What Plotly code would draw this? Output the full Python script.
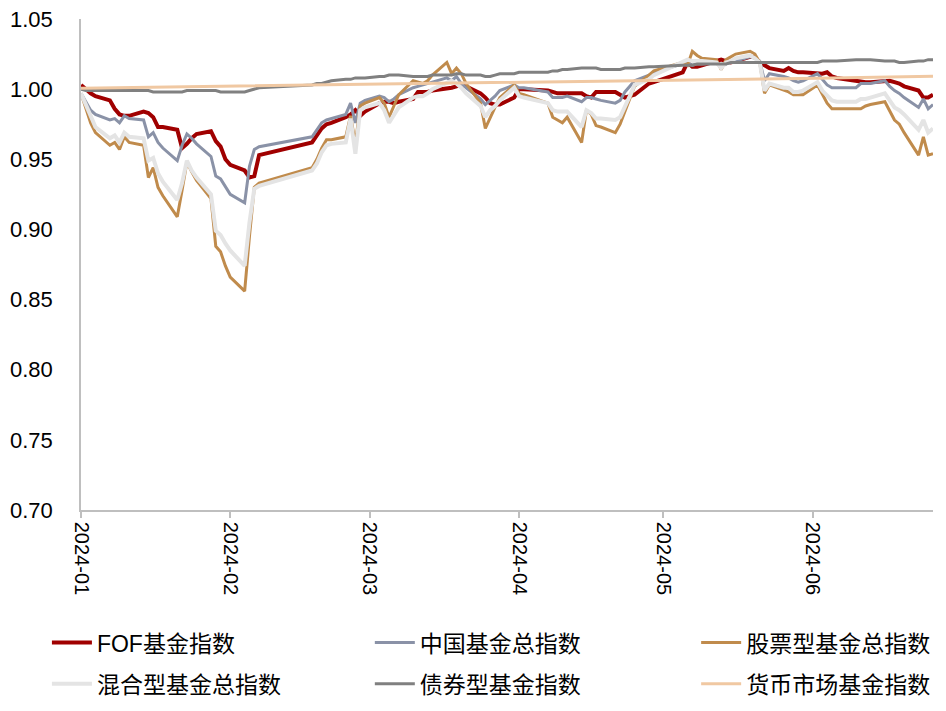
import plotly.graph_objects as go

dates = [
    "2024-01-02", "2024-01-03", "2024-01-04", "2024-01-05", "2024-01-08", "2024-01-09",
    "2024-01-10", "2024-01-11", "2024-01-12", "2024-01-15", "2024-01-16", "2024-01-17",
    "2024-01-18", "2024-01-19", "2024-01-22", "2024-01-23", "2024-01-24", "2024-01-25",
    "2024-01-26", "2024-01-29", "2024-01-30", "2024-01-31", "2024-02-01", "2024-02-02",
    "2024-02-05", "2024-02-06", "2024-02-07", "2024-02-08", "2024-02-19", "2024-02-20",
    "2024-02-21", "2024-02-22", "2024-02-23", "2024-02-26", "2024-02-27", "2024-02-28",
    "2024-02-29", "2024-03-01", "2024-03-04", "2024-03-05", "2024-03-06", "2024-03-07",
    "2024-03-08", "2024-03-11", "2024-03-12", "2024-03-13", "2024-03-14", "2024-03-15",
    "2024-03-18", "2024-03-19", "2024-03-20", "2024-03-21", "2024-03-22", "2024-03-25",
    "2024-03-26", "2024-03-27", "2024-03-28", "2024-03-29", "2024-04-01", "2024-04-02",
    "2024-04-03", "2024-04-08", "2024-04-09", "2024-04-10", "2024-04-11", "2024-04-12",
    "2024-04-15", "2024-04-16", "2024-04-17", "2024-04-18", "2024-04-19", "2024-04-22",
    "2024-04-23", "2024-04-24", "2024-04-25", "2024-04-26", "2024-04-29", "2024-04-30",
    "2024-05-06", "2024-05-07", "2024-05-08", "2024-05-09", "2024-05-10", "2024-05-13",
    "2024-05-14", "2024-05-15", "2024-05-16", "2024-05-17", "2024-05-20", "2024-05-21",
    "2024-05-22", "2024-05-23", "2024-05-24", "2024-05-27", "2024-05-28", "2024-05-29",
    "2024-05-30", "2024-05-31", "2024-06-03", "2024-06-04", "2024-06-05", "2024-06-06",
    "2024-06-07", "2024-06-11", "2024-06-12", "2024-06-13", "2024-06-14", "2024-06-17",
    "2024-06-18", "2024-06-19", "2024-06-20", "2024-06-21", "2024-06-24", "2024-06-25",
    "2024-06-26", "2024-06-27",
]

fof_index = [
    1.003, 1.000, 0.997, 0.995, 0.992, 0.986,
    0.982, 0.981, 0.981, 0.984, 0.983, 0.980,
    0.973, 0.973, 0.971, 0.958, 0.961, 0.965,
    0.968, 0.970, 0.963, 0.959, 0.950, 0.946,
    0.942, 0.937, 0.938, 0.953, 0.962, 0.967,
    0.972, 0.975, 0.976, 0.980, 0.982, 0.985,
    0.981, 0.984, 0.990, 0.991, 0.991, 0.990,
    0.991, 0.993, 0.998, 0.998, 0.998, 0.999,
    1.000, 1.001, 1.002, 1.003, 1.002, 0.997,
    0.994, 0.990, 0.989, 0.989, 0.994, 1.000,
    1.000, 0.999, 0.998, 0.997, 0.997, 0.997,
    0.997, 0.995, 0.994, 0.998, 0.998, 0.998,
    0.996, 0.994, 0.995, 0.996, 1.004, 1.005,
    1.012, 1.019, 1.016, 1.016, 1.017, 1.020,
    1.021, 1.020, 1.019, 1.020, 1.023, 1.023,
    1.019, 1.017, 1.015, 1.013, 1.015, 1.013,
    1.012, 1.012, 1.011, 1.011, 1.012, 1.009,
    1.008, 1.006, 1.005, 1.005, 1.005, 1.006,
    1.006, 1.005, 1.004, 1.002, 0.999, 0.994,
    0.994, 0.996,
]

china_total_index = [
    0.997, 0.991, 0.985, 0.982, 0.978, 0.979,
    0.976, 0.981, 0.979, 0.978, 0.966, 0.969,
    0.962, 0.958, 0.949, 0.960, 0.968, 0.965,
    0.961, 0.952, 0.938, 0.936, 0.930, 0.925,
    0.919, 0.945, 0.957, 0.959, 0.966, 0.971,
    0.976, 0.978, 0.979, 0.982, 0.990, 0.976,
    0.990, 0.992, 0.995, 0.994, 0.991, 0.993,
    0.996, 1.001, 1.002, 1.003, 1.004, 1.005,
    1.008, 1.006, 1.009, 1.004, 1.001, 0.993,
    0.989, 0.992, 0.995, 0.999, 1.003, 1.001,
    1.001, 0.998, 0.994, 0.994, 0.994, 0.995,
    0.991, 0.994, 0.994, 0.993, 0.992, 0.990,
    0.992, 0.998, 1.002, 1.006, 1.010, 1.012,
    1.018, 1.019, 1.017, 1.018, 1.018, 1.019,
    1.016, 1.018, 1.019, 1.020, 1.023, 1.022,
    1.020, 1.006, 1.011, 1.009, 1.008, 1.006,
    1.005, 1.006, 1.011, 1.007, 1.003, 1.001,
    1.001, 1.001, 1.004, 1.004, 1.004, 1.006,
    1.002, 0.999, 0.997, 0.994, 0.987, 0.993,
    0.986, 0.989,
]

stock_fund_index = [
    0.997, 0.987, 0.976, 0.969, 0.960, 0.962,
    0.957, 0.966, 0.962, 0.960, 0.937, 0.944,
    0.930, 0.924, 0.909, 0.928, 0.948, 0.941,
    0.935, 0.922, 0.888, 0.884, 0.874, 0.866,
    0.856, 0.895, 0.930, 0.933, 0.944, 0.950,
    0.958, 0.964, 0.964, 0.966, 0.981, 0.961,
    0.988, 0.990, 0.994, 0.990, 0.980, 0.988,
    0.996, 1.006, 1.005, 1.004, 1.006, 1.010,
    1.019, 1.011, 1.015, 1.011, 1.004, 0.990,
    0.972, 0.980, 0.987, 0.994, 1.003, 0.997,
    0.996, 0.990, 0.980, 0.978, 0.976, 0.980,
    0.962, 0.985, 0.982, 0.974, 0.973, 0.969,
    0.975, 0.984, 0.993, 1.002, 1.010, 1.013,
    1.019, 1.017, 1.027, 1.024, 1.022, 1.021,
    1.014, 1.021, 1.023, 1.025, 1.027, 1.025,
    1.019, 0.997, 1.003, 0.999, 0.998, 0.996,
    0.996, 0.996, 1.003, 0.996, 0.990, 0.986,
    0.986, 0.986, 0.986, 0.988, 0.989, 0.991,
    0.984, 0.978, 0.975, 0.969, 0.953, 0.966,
    0.953, 0.954,
]

mixed_fund_index = [
    0.997, 0.989, 0.980, 0.973, 0.965, 0.967,
    0.962, 0.969, 0.966, 0.965, 0.949, 0.951,
    0.940, 0.934, 0.921, 0.933, 0.949, 0.942,
    0.937, 0.925, 0.899, 0.896, 0.890, 0.885,
    0.874, 0.905, 0.929, 0.931, 0.942, 0.947,
    0.955, 0.960, 0.961, 0.962, 0.979, 0.954,
    0.985, 0.987, 0.990, 0.985, 0.976, 0.981,
    0.987, 0.994, 0.995, 0.995, 0.997, 1.000,
    1.005, 1.006, 1.004, 1.001, 0.997, 0.988,
    0.980, 0.985, 0.988, 0.992, 1.001, 0.995,
    0.994, 0.990, 0.985, 0.984, 0.984, 0.984,
    0.973, 0.985, 0.983, 0.979, 0.979, 0.978,
    0.980, 0.987, 0.995, 1.003, 1.007, 1.010,
    1.020, 1.021, 1.020, 1.020, 1.020, 1.019,
    1.015, 1.019, 1.020, 1.022, 1.024, 1.022,
    1.019, 0.999, 1.004, 1.001, 1.001, 0.998,
    0.998, 0.999, 1.005, 0.999, 0.995, 0.992,
    0.991, 0.991, 0.993, 0.993, 0.994, 0.997,
    0.992, 0.987, 0.985, 0.982, 0.971, 0.978,
    0.969, 0.972,
]

bond_fund_index = [
    1.000, 0.999, 0.999, 0.999, 0.999, 0.999,
    0.999, 0.999, 0.999, 0.999, 0.999, 0.998,
    0.998, 0.998, 0.998, 0.998, 0.999, 0.999,
    0.999, 0.999, 0.999, 0.998, 0.998, 0.998,
    0.998, 0.999, 1.000, 1.001, 1.003, 1.004,
    1.004, 1.005, 1.006, 1.007, 1.007, 1.008,
    1.008, 1.008, 1.009, 1.009, 1.010, 1.010,
    1.010, 1.009, 1.009, 1.009, 1.009, 1.010,
    1.010, 1.010, 1.011, 1.011, 1.010, 1.010,
    1.009, 1.009, 1.010, 1.011, 1.011, 1.012,
    1.012, 1.012, 1.013, 1.013, 1.014, 1.014,
    1.015, 1.015, 1.015, 1.015, 1.014, 1.014,
    1.014, 1.015, 1.015, 1.015, 1.016, 1.016,
    1.017, 1.017, 1.017, 1.018, 1.018, 1.018,
    1.018, 1.018, 1.019, 1.019, 1.019, 1.019,
    1.019, 1.019, 1.019, 1.019, 1.019, 1.019,
    1.019, 1.019, 1.019, 1.020, 1.020, 1.020,
    1.020, 1.021, 1.021, 1.021, 1.021, 1.020,
    1.020, 1.020, 1.019, 1.019, 1.020, 1.020,
    1.021, 1.021,
]

money_dates = ["2024-01-02", "2024-02-01", "2024-03-01", "2024-04-01",
               "2024-05-06", "2024-06-03", "2024-06-27"]
money_fund_index = [1.0007, 1.0020, 1.0033, 1.0047, 1.0062, 1.0078, 1.0092]

tick_dates = ["2024-01-02", "2024-02-02", "2024-03-02", "2024-04-02", "2024-05-02", "2024-06-02"]
tick_labels = ["2024-01", "2024-02", "2024-03", "2024-04", "2024-05", "2024-06"]

y_ticks = [0.70, 0.75, 0.80, 0.85, 0.90, 0.95, 1.00, 1.05]

series_names = ["FOF基金指数", "中国基金总指数", "股票型基金总指数",
                "混合型基金总指数", "债券型基金指数", "货币市场基金指数"]

FONT = "Liberation Sans, Arial, Noto Sans CJK SC, sans-serif"

fig = go.Figure()
fig.add_trace(go.Scatter(x=dates, y=fof_index, mode="lines", name=series_names[0],
                         line=dict(color="#A00000", width=4), legend="legend"))
fig.add_trace(go.Scatter(x=dates, y=china_total_index, mode="lines", name=series_names[1],
                         line=dict(color="#8A92A7", width=3), legend="legend2"))
fig.add_trace(go.Scatter(x=dates, y=stock_fund_index, mode="lines", name=series_names[2],
                         line=dict(color="#C08B4C", width=3), legend="legend3"))
fig.add_trace(go.Scatter(x=dates, y=mixed_fund_index, mode="lines", name=series_names[3],
                         line=dict(color="#E4E4E4", width=4), legend="legend4"))
fig.add_trace(go.Scatter(x=dates, y=bond_fund_index, mode="lines", name=series_names[4],
                         line=dict(color="#808080", width=3), legend="legend5"))
fig.add_trace(go.Scatter(x=money_dates, y=money_fund_index, mode="lines", name=series_names[5],
                         line=dict(color="#F0C8A2", width=3), legend="legend6"))

def leg(x, y):
    return dict(x=x, y=y, xanchor="left", yanchor="middle", bgcolor="rgba(0,0,0,0)",
                font=dict(family=FONT, size=23, color="#000000"), itemwidth=40,
                itemclick=False, itemdoubleclick=False)

col_x = [-0.040, 0.339, 0.722]
row_y = [-0.270, -0.354]

# the page body adds an 8px margin on the left and top, so the figure is sized to fit the window
fig.update_layout(
    width=930, height=695,
    margin=dict(l=73, r=5, t=11, b=193, autoexpand=False),
    paper_bgcolor="white", plot_bgcolor="white",
    font=dict(family=FONT, color="#000000"),
    showlegend=True,
    legend=leg(col_x[0], row_y[0]),
    legend2=leg(col_x[1], row_y[0]),
    legend3=leg(col_x[2], row_y[0]),
    legend4=leg(col_x[0], row_y[1]),
    legend5=leg(col_x[1], row_y[1]),
    legend6=leg(col_x[2], row_y[1]),
    xaxis=dict(
        type="date", range=["2024-01-02", "2024-06-27"],
        tickmode="array", tickvals=tick_dates, ticktext=tick_labels,
        tickangle=90, ticks="outside", ticklen=6, tickcolor="#BFBFBF", tickwidth=1.5,
        showline=True, linecolor="#BFBFBF", linewidth=1.5,
        showgrid=False, zeroline=False,
        tickfont=dict(family=FONT, size=20, color="#000000"),
    ),
    yaxis=dict(
        range=[0.70, 1.05], tickmode="array", tickvals=y_ticks, tickformat=".2f",
        ticks="", showline=True, linecolor="#BFBFBF", linewidth=1.5,
        showgrid=False, zeroline=False, ticklabelstandoff=22,
        ticklabeloverflow="allow",
        tickfont=dict(family=FONT, size=22, color="#000000"),
    ),
)

fig.write_html("out.html")
